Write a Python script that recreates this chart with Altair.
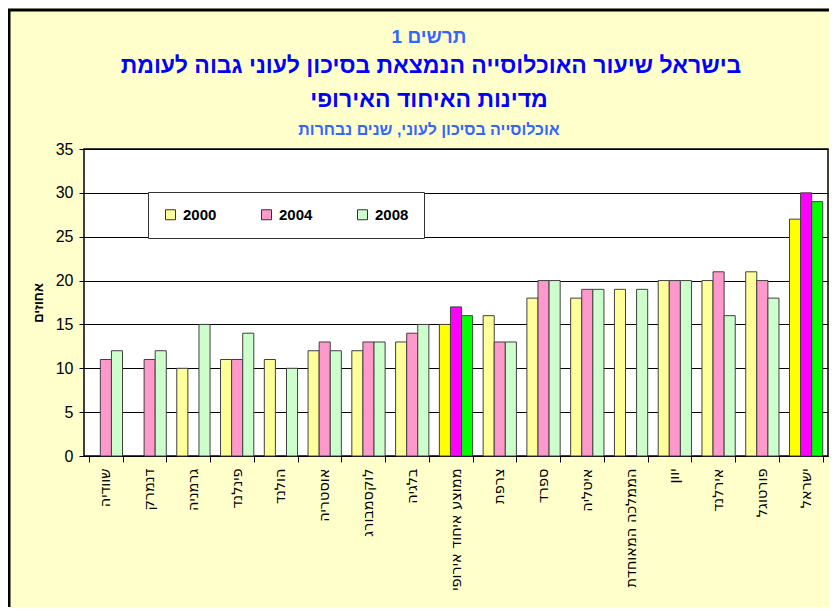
import altair as alt
import pandas as pd

countries = ["שוודיה", "דנמרק", "גרמניה", "פינלנד", "הולנד", "אוסטריה", "לוקסמבורג", "בלגיה",
             "ממוצע איחוד אירופי", "צרפת", "ספרד", "איטליה", "הממלכה המאוחדת", "יוון",
             "אירלנד", "פורטוגל", "ישראל"]
years = ["2000", "2004", "2008"]
v2000 = [None, None, 10, 11, 11, 12, 12, 13, 15, 16, 18, 18, 19, 20, 20, 21, 27]
v2004 = [11, 11, None, 11, None, 13, 13, 14, 17, 13, 20, 19, None, 20, 21, 20, 30]
v2008 = [12, 12, 15, 14, 10, 12, 13, 15, 16, 13, 20, 19, 19, 20, 16, 18, 29]
highlight = ["ממוצע איחוד אירופי", "ישראל"]

title_top = "תרשים 1"
title_main = ["בישראל שיעור האוכלוסייה הנמצאת בסיכון לעוני גבוה לעומת", "מדינות האיחוד האירופי"]
subtitle = "אוכלוסייה בסיכון לעוני, שנים נבחרות"
y_title = "אחוזים"

color_domain = ["2000", "2004", "2008", "2000*", "2004*", "2008*"]
color_range = ["#FFFF99", "#FF99CC", "#CCFFCC", "#FFFF00", "#FF00FF", "#00FF00"]

rows = []
for i, c in enumerate(countries):
    for y, vals in zip(years, [v2000, v2004, v2008]):
        v = vals[i]
        if v is None:
            continue
        key = y + ("*" if c in highlight else "")
        rows.append({"country": c, "year": y, "key": key, "value": v})
df = pd.DataFrame(rows)

bars = alt.Chart(df).mark_bar(stroke="#404040", strokeWidth=1).encode(
    x=alt.X("country:N", sort=countries,
            scale=alt.Scale(paddingInner=0.24, paddingOuter=0.12),
            axis=alt.Axis(title=None, labelAngle=270, labelAlign="right", labelBaseline="middle",
                          labelFont="DejaVu Sans", labelFontSize=14.5, labelColor="black",
                          labelPadding=6, labelLimit=300, tickSize=6, tickColor="black",
                          tickBand="extent", domainColor="black", grid=False)),
    xOffset=alt.XOffset("year:N", sort=years, scale=alt.Scale(paddingInner=0, paddingOuter=0)),
    y=alt.Y("value:Q", scale=alt.Scale(domain=[0, 35], nice=False),
            axis=alt.Axis(values=list(range(0, 36, 5)), title=y_title, titleFont="Liberation Sans",
                          titleFontSize=13, titleFontWeight="bold", titleColor="black",
                          titlePadding=10, labelFont="Liberation Sans", labelFontSize=16,
                          labelColor="black", labelPadding=6, tickSize=5, tickColor="black",
                          domain=False, grid=True, gridColor="black", gridWidth=1)),
    color=alt.Color("key:N", scale=alt.Scale(domain=color_domain, range=color_range),
                    legend=alt.Legend(values=years, title=None, orient="none", legendX=64, legendY=43,
                                      direction="horizontal", fillColor="white", strokeColor="#333333",
                                      padding=15, symbolType="square", symbolSize=100,
                                      symbolStrokeColor="#333333", symbolStrokeWidth=1,
                                      symbolOpacity=1, labelFont="Liberation Sans", labelFontSize=15,
                                      labelFontWeight="bold", labelColor="black", labelOffset=5,
                                      columnPadding=42)),
)

def text_layer(txt, x, y, size, color):
    return alt.Chart(pd.DataFrame({"t": [txt]})).mark_text(
        font="Liberation Sans", fontWeight="bold", fontSize=size, color=color,
        align="center", baseline="middle"
    ).encode(text="t:N", x=alt.value(x), y=alt.value(y))

t1 = text_layer(title_top, 345, -112, 19, "#3366FF")
t2 = text_layer(title_main[0], 347, -83, 23, "#0000FF")
t3 = text_layer(title_main[1], 345, -49, 23, "#0000FF")
t4 = text_layer(subtitle, 345, -19, 16, "#3366FF")

frame_left = alt.Chart(pd.DataFrame({"a": [0]})).mark_rule(color="black", strokeWidth=3).encode(
    x=alt.value(-75), y=alt.value(-140), y2=alt.value(460))
frame_top = alt.Chart(pd.DataFrame({"a": [0]})).mark_rule(color="black", strokeWidth=3).encode(
    x=alt.value(-76), x2=alt.value(750), y=alt.value(-139))

chart = alt.layer(bars, t1, t2, t3, t4, frame_left, frame_top).properties(
    width=744, height=307,
    autosize=alt.AutoSizeParams(type="none"),
    padding={"left": 76, "top": 141, "right": 1, "bottom": 151},
    background="#FFFFCC",
).configure_view(stroke="black", strokeWidth=1.5, fill="white")

chart.save("out.html", embed_options={"renderer": "svg", "actions": False})
